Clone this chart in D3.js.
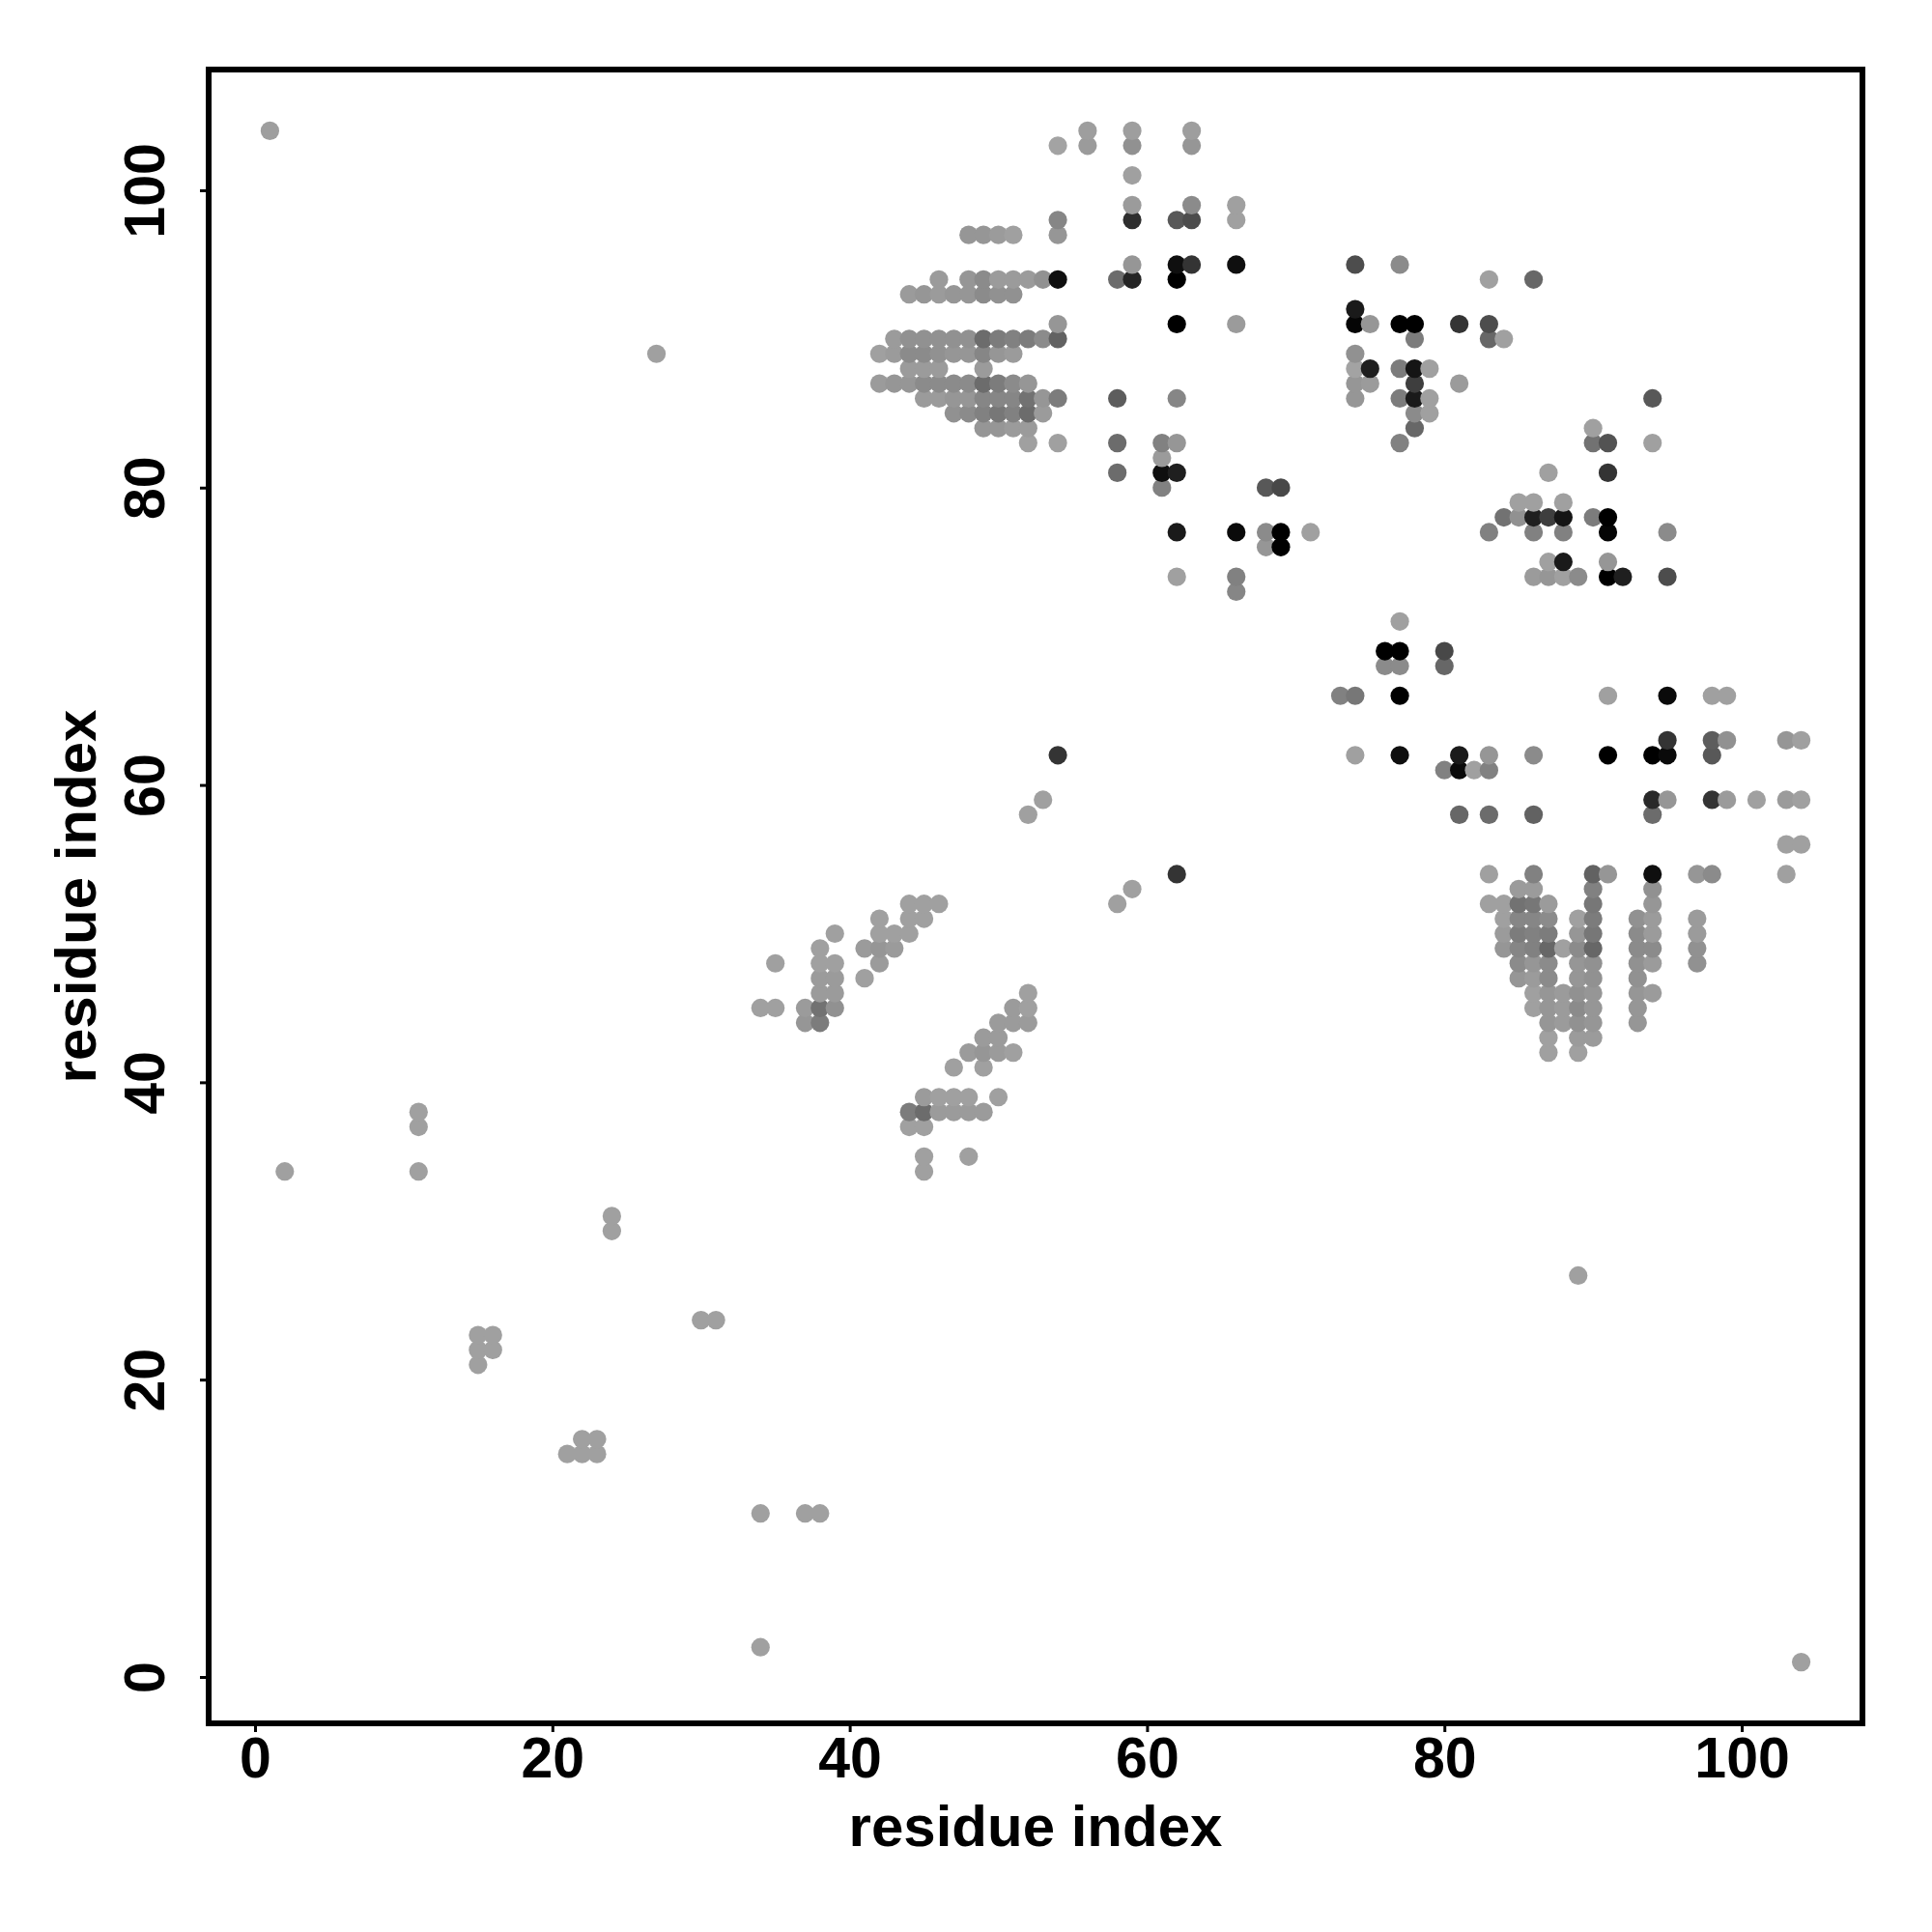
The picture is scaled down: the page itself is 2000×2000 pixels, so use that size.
<!DOCTYPE html>
<html>
<head>
<meta charset="utf-8">
<script src="https://cdn.jsdelivr.net/npm/d3@7"></script>
<style>html,body{margin:0;padding:0;background:#fff}</style>
</head>
<body>
<svg id="chart" width="2000" height="2000"></svg>
<script>
const xTicks = [0, 20, 40, 60, 80, 100];
const yTicks = [0, 20, 40, 60, 80, 100];
const xTitle = "residue index";
const yTitle = "residue index";

const rowIndex = [104,103,101,99,98,97,95,94,93,92,91,90,89,88,87,86,85,84,83,82,81,80,79,78,77,76,75,74,73,71,69,68,66,63,62,61,59,58,56,54,53,52,51,50,49,48,47,46,45,44,43,42,41,39,38,37,35,34,31,30,27,24,23,22,21,16,15,11,2,1];
const rowPartners = [
[1,56,59,63],
[54,56,59,63],
[59],
[59,63,66],
[54,59,62,63,66],
[48,49,50,51,54],
[59,62,63,66,74,77],
[46,48,49,50,51,52,53,54,58,59,62,83,86],
[44,45,46,47,48,49,50,51],
[74],
[54,62,66,74,75,77,78,81,83],
[43,44,45,46,47,48,49,50,51,52,53,54,78,83,84],
[27,42,43,44,45,46,47,48,49,50,51,74],
[44,45,46,49,74,75,77,78,79],
[42,43,44,45,46,47,48,49,50,51,52,74,75,78,81],
[45,46,47,48,49,50,51,52,53,54,58,62,74,77,78,79,94],
[47,48,49,50,51,52,53,78,79],
[49,50,51,52,78,90],
[52,54,58,61,62,77,90,91,94],
[61],
[58,61,62,87,91],
[61,68,69],
[85,86,88],
[84,85,86,87,88,90,91],
[62,66,68,69,71,83,86,88,91,95],
[68,69],
[87,88,91],
[62,66,86,87,88,89,91,92,95],
[66],
[77],
[76,77,80],
[76,77,80],
[73,74,77,91,95,98,99],
[95,98,99,103,104],
[54,74,77,81,83,86,91,94,95,98],
[80,81,82,83],
[53,94,95,98,99,101,103,104],
[52,81,83,86,94],
[103,104],
[62,83,86,90,91,94,97,98,103],
[59,85,86,90,94],
[44,45,46,58,83,84,85,86,87,90,94],
[42,44,45,84,85,86,87,89,90,93,94,97],
[39,42,43,44,84,85,86,87,89,90,93,94,97],
[38,41,42,43,84,85,86,87,88,89,90,93,94,97],
[35,38,39,42,85,86,87,89,90,93,94,97],
[38,39,41,85,86,87,89,90,93],
[38,39,52,86,87,88,89,90,93,94],
[34,35,37,38,39,51,52,86,87,88,89,90,93],
[37,38,50,51,52,87,88,89,90,93],
[49,50,87,89,90],
[48,49,50,51,87,89],
[47,49],
[45,46,47,48,50],
[11,44,45,46,47,48,49],
[11,44,45],
[45,48],
[2,11,45],
[24],
[24],
[89],
[30,31],
[15,16],
[15,16],
[15],
[22,23],
[21,22,23],
[34,37,38],
[34],
[104]
];
const rowScores = [
[3,3,3,3],
[0,5,11,8],
[2],
[5,15,2],
[18,72,46,53,2],
[8,8,5,2,8],
[8,91,68,91,53,15],
[5,8,15,5,5,5,11,91,34,78,100,2,37],
[5,8,5,8,8,15,11,11],
[84],
[8,100,5,97,8,100,100,68,53],
[5,11,11,11,11,11,34,24,21,24,15,40,24,37,2],
[2,2,5,15,15,11,8,8,18,8,5,11],
[5,5,5,5,0,81,24,87,2],
[5,8,8,15,15,15,15,34,24,15,8,8,5,62,5],
[5,5,8,8,18,18,18,30,8,24,43,18,8,24,84,2,46],
[11,15,21,27,21,34,5,15,2],
[8,8,5,5,37,2],
[2,2,34,21,8,21,30,49,2],
[5],
[34,91,81,2,68],
[21,46,56],
[2,2,2],
[30,11,81,62,87,24,100],
[84,94,15,100,2,21,21,21,97,15],
[8,100],
[2,84,8],
[2,21,5,8,2,15,100,81,53],
[18],
[2],
[100,100,56],
[15,15,37],
[21,27,100,2,94,2,2],
[68,43,11,8,2],
[68,2,91,84,8,15,100,100,94,46],
[21,94,2,21],
[2,75,8,68,5,2,5,2],
[2,37,34,40,34],
[2,2],
[68,2,21,40,8,91,8,15,2],
[2,5,5,21,11],
[2,2,2,2,2,2,30,27,5,27,8],
[2,2,2,2,18,18,15,2,24,11,5,5],
[2,2,2,2,5,24,21,24,8,27,15,5,5],
[2,5,8,5,8,18,21,37,2,15,37,15,15,11],
[2,2,2,5,15,8,15,8,11,11,5,11],
[5,5,2,8,5,15,8,11,11],
[5,5,2,2,8,5,11,8,8,5],
[2,2,5,30,11,5,2,2,8,5,15,8,8],
[8,24,5,5,5,8,5,11,8,8],
[5,5,2,5,5],
[5,8,5,2,2,2],
[2,2],
[5,2,2,2,2],
[2,24,34,5,5,5,5],
[2,2,2],
[2,2],
[2,2,2],
[2],
[2],
[2],
[2,2],
[2,2],
[2,2],
[2],
[2,2],
[2,2,2],
[2,2,2],
[2],
[2]
];

const contacts = rowIndex.flatMap((j, r) =>
  rowPartners[r].map((i, k) => ({ i, j, score: rowScores[r][k] })));
contacts.sort((a, b) => a.i - b.i || a.j - b.j);

const frame = { left: 216, right: 1928, top: 72, bottom: 1784 };
const fontFamily = '"Liberation Sans", Arial, sans-serif';

const svg = d3.select("#chart");
const x = d3.scaleLinear().domain([-3.12, 108.12]).range([frame.left, frame.right]);
const y = d3.scaleLinear().domain([-3.12, 108.12]).range([frame.bottom, frame.top]);
const shade = d3.scaleLinear().domain([0, 100]).range([163, 0]);

svg.append("g").selectAll("circle").data(contacts).join("circle")
  .attr("cx", d => x(d.i))
  .attr("cy", d => y(d.j))
  .attr("r", 9.6)
  .attr("fill", d => { const g = Math.round(shade(d.score)); return `rgb(${g},${g},${g})`; });

const tickSize = 9;
const gx = svg.append("g").attr("transform", `translate(0,${frame.bottom})`)
  .call(d3.axisBottom(x).tickValues(xTicks).tickSize(tickSize).tickPadding(10).tickFormat(d3.format("d")));
const gy = svg.append("g").attr("transform", `translate(${frame.left},0)`)
  .call(d3.axisLeft(y).tickValues(yTicks).tickSize(tickSize).tickPadding(10).tickFormat(d3.format("d")));
gx.select(".domain").remove();
gy.select(".domain").remove();
svg.selectAll(".tick line").attr("stroke", "#000").attr("stroke-width", 3);
gx.selectAll("text")
  .attr("y", null).attr("dy", null)
  .attr("transform", "translate(0,56)")
  .attr("fill", "#000").attr("text-anchor", "middle")
  .style("font", `bold 59px ${fontFamily}`);
gy.selectAll("text")
  .attr("x", null).attr("dy", null)
  .attr("transform", "translate(-46,0) rotate(-90)")
  .attr("fill", "#000").attr("text-anchor", "middle")
  .style("font", `bold 59px ${fontFamily}`);

svg.append("rect")
  .attr("x", frame.left).attr("y", frame.top)
  .attr("width", frame.right - frame.left).attr("height", frame.bottom - frame.top)
  .attr("fill", "none").attr("stroke", "#000").attr("stroke-width", 6);

svg.append("text").attr("x", (frame.left + frame.right) / 2).attr("y", 1911)
  .attr("text-anchor", "middle").attr("fill", "#000")
  .style("font", `bold 60px ${fontFamily}`).text(xTitle);
svg.append("text")
  .attr("transform", `translate(99,${(frame.top + frame.bottom) / 2}) rotate(-90)`)
  .attr("text-anchor", "middle").attr("fill", "#000")
  .style("font", `bold 60px ${fontFamily}`).text(yTitle);
</script>
</body>
</html>
